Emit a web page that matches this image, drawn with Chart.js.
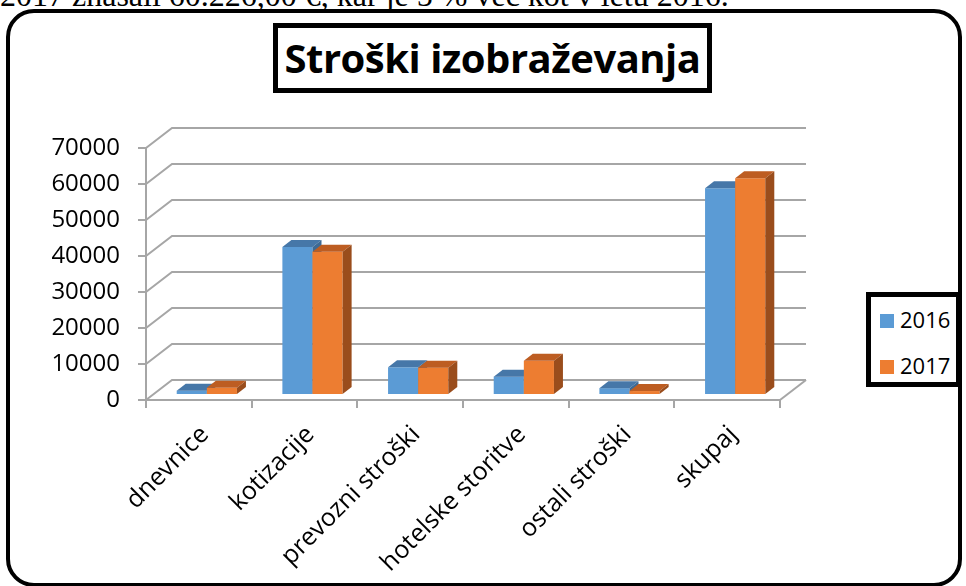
<!DOCTYPE html>
<html>
<head>
<meta charset="utf-8">
<script src="https://cdn.jsdelivr.net/npm/chart.js@4.4.0/dist/chart.umd.min.js"></script>
<style>
  body { margin: 0; width: 966px; height: 586px; overflow: hidden; background: #fff; position: relative; }
  #intro { position: absolute; left: 0; top: -21px; font: 32px 'Liberation Serif', serif; line-height: 32px; white-space: nowrap; color: #000; }
  #frame { position: absolute; left: 6px; top: 9px; width: 948px; height: 570px; border: 4px solid #000; border-radius: 28px; }
  #wrap { position: absolute; left: 0; top: 0; width: 966px; height: 586px; }
  #title { position: absolute; left: 273px; top: 23px; width: 429px; height: 60px; border: 5px solid #000; background: #fff;
           font: bold 40px 'Open Sans', sans-serif; line-height: 60px; text-align: center; color: #000; letter-spacing: -0.5px; }
  #legend { position: absolute; left: 866px; top: 292px; width: 85px; height: 85px; border: 5px solid #000; background: #fff;
            font: 22px 'Open Sans', sans-serif; color: #000; }
  .item { position: absolute; left: 9px; height: 22px; line-height: 22px; }
  .item i { position: absolute; left: 0; top: 4px; width: 14px; height: 14px; }
  .item span { position: absolute; left: 20px; top: -2px; }
</style>
</head>
<body>
<div id="intro">2017 znašali 60.226,00 €, kar je 5 % več kot v letu 2016.</div>
<div id="frame"></div>
<div id="wrap"><canvas id="c"></canvas></div>
<div id="title">Stroški izobraževanja</div>
<div id="legend">
  <div class="item" style="top:13px"><i style="background:#5b9bd5"></i><span>2016</span></div>
  <div class="item" style="top:59px"><i style="background:#ed7d31"></i><span>2017</span></div>
</div>
<script>
// podatki (odčitani s slike)
const categories = ['dnevnice', 'kotizacije', 'prevozni stroški', 'hotelske storitve', 'ostali stroški', 'skupaj'];
const values2016 = [1200, 41100, 7700, 5100, 1900, 57400];
const values2017 = [2000, 39800, 7600, 9500, 1100, 60226];
const seriesNames = ['2016', '2017'];
const yMax = 70000;
const yStep = 10000;

const PALETTES = [
  { front: '#5b9bd5', top: '#4677a8', side: '#3d6a95' },
  { front: '#ed7d31', top: '#bd5d22', side: '#9a4d1c' }
];
const GRID = '#a6a6a6';

// psevdo 3D: zamik sprednje ploskve stolpcev, globina stolpca, zamik zadnje stene
const BAR_DX = 8, BAR_DY = -5;
const DEPTH_DX = 9, DEPTH_DY = -7;
const WALL_DX = 26, WALL_DY = -20;

function drawFaces(ctx, meta, pal) {
  meta.data.forEach(bar => {
    const p = bar.getProps(['x', 'y', 'base', 'width'], true);
    const x0 = p.x - p.width / 2, x1 = p.x + p.width / 2;
    ctx.fillStyle = pal.top;
    ctx.beginPath();
    ctx.moveTo(x0, p.y);
    ctx.lineTo(x0 + DEPTH_DX, p.y + DEPTH_DY);
    ctx.lineTo(x1 + DEPTH_DX, p.y + DEPTH_DY);
    ctx.lineTo(x1, p.y);
    ctx.closePath();
    ctx.fill();
    ctx.fillStyle = pal.side;
    ctx.beginPath();
    ctx.moveTo(x1, p.y);
    ctx.lineTo(x1 + DEPTH_DX, p.y + DEPTH_DY);
    ctx.lineTo(x1 + DEPTH_DX, p.base + DEPTH_DY);
    ctx.lineTo(x1, p.base);
    ctx.closePath();
    ctx.fill();
  });
}

const pseudo3d = {
  id: 'pseudo3d',
  beforeDatasetsDraw(chart) {
    const { ctx, chartArea: a } = chart;
    const y = chart.scales.y;
    ctx.save();
    ctx.strokeStyle = GRID;
    ctx.lineWidth = 2;
    for (let v = 0; v <= yMax; v += yStep) {
      const py = y.getPixelForValue(v);
      ctx.beginPath();
      ctx.moveTo(a.left, py);
      ctx.lineTo(a.left + WALL_DX, py + WALL_DY);
      ctx.lineTo(a.right + WALL_DX, py + WALL_DY);
      ctx.stroke();
    }
    // desni rob tal
    ctx.beginPath();
    ctx.moveTo(a.right, a.bottom);
    ctx.lineTo(a.right + WALL_DX, a.bottom + WALL_DY);
    ctx.stroke();
    ctx.restore();
  },
  // stolpce rišemo sami, po vrsti 2016 -> 2017, da 2017 prekrije stranico 2016
  beforeDatasetDraw() { return false; },
  afterDatasetsDraw(chart) {
    const ctx = chart.ctx;
    ctx.save();
    ctx.translate(BAR_DX, BAR_DY);
    chart.data.datasets.forEach((ds, i) => {
      const meta = chart.getDatasetMeta(i);
      meta.controller.draw();
      drawFaces(ctx, meta, PALETTES[i]);
    });
    ctx.restore();
  }
};

new Chart(document.getElementById('c'), {
  type: 'bar',
  data: {
    labels: categories,
    datasets: seriesNames.map((name, i) => ({
      label: name,
      data: i === 0 ? values2016 : values2017,
      backgroundColor: PALETTES[i].front
    }))
  },
  options: {
    responsive: true,
    maintainAspectRatio: false,
    animation: false,
    categoryPercentage: 0.57,
    barPercentage: 1,
    layout: { padding: { left: 0, right: 186, top: 148, bottom: 0 } },
    plugins: { legend: { display: false }, tooltip: { enabled: false } },
    scales: {
      x: {
        afterFit: s => { s.height = 186; },
        border: { color: GRID, width: 2 },
        grid: { offset: true, drawOnChartArea: false, color: GRID, lineWidth: 2, tickLength: 8 },
        ticks: { color: '#000', font: { family: "'Open Sans'", size: 25 }, minRotation: 45, maxRotation: 45, padding: 12, labelOffset: 6 }
      },
      y: {
        min: 0,
        max: yMax,
        afterFit: s => { s.width = 146; },
        border: { color: GRID, width: 2 },
        grid: { drawOnChartArea: false, color: GRID, lineWidth: 2, tickLength: 8 },
        ticks: { stepSize: yStep, color: '#000', font: { family: "'Open Sans'", size: 24 }, padding: 18, callback: v => v }
      }
    }
  },
  plugins: [pseudo3d]
});
</script>
</body>
</html>
